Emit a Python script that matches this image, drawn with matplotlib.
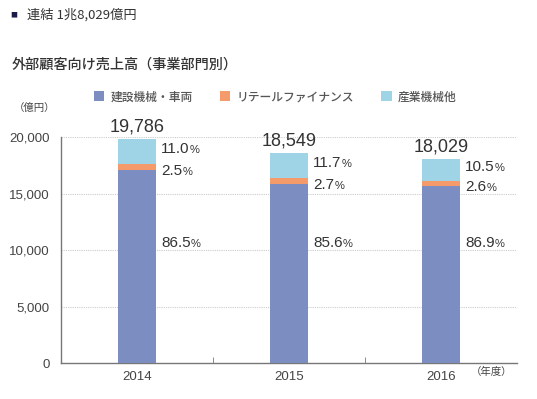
import matplotlib.pyplot as plt
from matplotlib.offsetbox import TextArea, HPacker, AnnotationBbox

years = ["2014", "2015", "2016"]
totals = [19786, 18549, 18029]
pct_const = [86.5, 85.6, 86.9]     # 建設機械・車両
pct_retail = [2.5, 2.7, 2.6]       # リテールファイナンス
pct_ind = [11.0, 11.7, 10.5]       # 産業機械他
series_names = ["建設機械・車両", "リテールファイナンス", "産業機械他"]
yticks = [0, 5000, 10000, 15000, 20000]

c_const = "#7c8ec1"
c_retail = "#f59a6b"
c_ind = "#9fd3e6"
txt = "#333333"
num_font = "Liberation Sans"
jp_font = ["Noto Sans CJK JP", "DejaVu Sans"]

v_const = [t * p / 100 for t, p in zip(totals, pct_const)]
v_retail = [t * p / 100 for t, p in zip(totals, pct_retail)]
v_ind = [t - a - b for t, a, b in zip(totals, v_const, v_retail)]

fig = plt.figure(figsize=(5.37, 3.99), dpi=100)
ax = fig.add_axes([0.1136, 0.0902, 0.8492, 0.5664])

x = list(range(len(years)))
w = 0.245
b1 = ax.bar(x, v_const, w, color=c_const, zorder=3)
b2 = ax.bar(x, v_retail, w, bottom=v_const, color=c_retail, zorder=3)
bot3 = [a + b for a, b in zip(v_const, v_retail)]
b3 = ax.bar(x, v_ind, w, bottom=bot3, color=c_ind, zorder=3)

ax.set_xlim(-0.5, 2.5)
ax.set_ylim(0, 20000)
ax.set_yticks(yticks)
ax.set_yticklabels(["{:,}".format(v) for v in yticks], fontfamily=num_font,
                   fontsize=9.5, color="#444444")
ax.set_xticks(x)
ax.set_xticklabels(years, fontfamily=num_font, fontsize=9.5, color="#444444")
ax.set_xticks([0.5, 1.5], minor=True)
ax.tick_params(axis="y", length=0, pad=8)
ax.tick_params(axis="x", which="major", length=0, pad=6)
ax.tick_params(axis="x", which="minor", direction="in", length=4, color="#777777")
for s in ["top", "right"]:
    ax.spines[s].set_visible(False)
for s in ["left", "bottom"]:
    ax.spines[s].set_color("#777777")
    ax.spines[s].set_linewidth(1.0)
for v in yticks[1:]:
    ax.axhline(v, color="#cccccc", lw=0.8, ls=(0, (1, 1)), zorder=1)


def pct_label(xi, y, val, dy=0):
    num = TextArea("{:.1f}".format(val), textprops=dict(fontfamily=num_font, fontsize=11, color=txt))
    sign = TextArea("%", textprops=dict(fontfamily=num_font, fontsize=8, color=txt))
    box = HPacker(children=[num, sign], align="baseline", pad=0, sep=0)
    ab = AnnotationBbox(box, (xi + w / 2, y), xybox=(4, dy), boxcoords="offset points",
                        box_alignment=(0, 0.5), frameon=False, pad=0)
    ax.add_artist(ab)


for i in x:
    ax.annotate("{:,}".format(totals[i]), (i, totals[i]), xytext=(0, 3),
                textcoords="offset points", ha="center", va="bottom",
                fontfamily=num_font, fontsize=13, color=txt)
    pct_label(i, bot3[i] + v_ind[i] / 2, pct_ind[i], dy=2)
    pct_label(i, v_const[i] + v_retail[i] / 2, pct_retail[i], dy=-3)
    pct_label(i, 10600, pct_const[i])

# legend
handles = [b1, b2, b3]
leg = fig.legend(handles, series_names, ncol=3, loc="center left",
                 bbox_to_anchor=(0.155, 0.757), frameon=False,
                 prop=dict(family=jp_font, size=8.5, weight="medium"), handlelength=0.9,
                 handleheight=0.9, handletextpad=0.5, columnspacing=2.3)
for t in leg.get_texts():
    t.set_color("#555555")

fig.text(0.026, 0.729, "（億円）", fontfamily=jp_font, fontsize=7.5, color="#444444", va="center")
fig.text(0.876, 0.068, "（年度）", fontfamily=jp_font, fontsize=7.5, color="#444444", va="center")
fig.text(0.022, 0.837, "外部顧客向け売上高（事業部門別）", fontfamily=jp_font,
         fontsize=10.2, fontweight="medium", color=txt, va="center")
fig.text(0.02, 0.962, "■", fontfamily=jp_font, fontsize=5, color="#1c1c4a", va="center")
fig.text(0.05, 0.962, "連結 1兆8,029億円", fontfamily=jp_font, fontsize=9.5,
         color=txt, va="center")

fig.savefig("out.png", dpi=100)
